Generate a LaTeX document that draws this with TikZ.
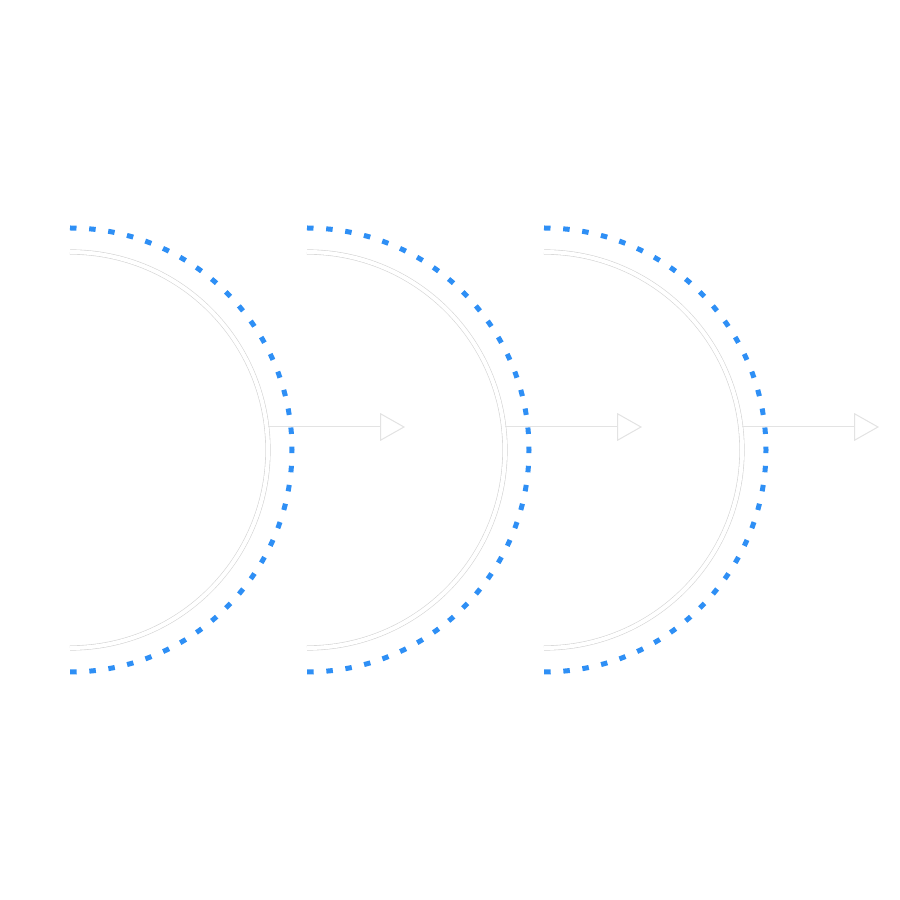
\documentclass[tikz,border=0pt]{standalone}
\usetikzlibrary{arrows.meta}
\definecolor{dotblue}{HTML}{2E8FF5}
\definecolor{faint}{HTML}{D4D4D4}
\definecolor{arrowgray}{HTML}{E3E3E3}
\begin{document}
\begin{tikzpicture}[x=1pt,y=1pt,
  dotarc/.style={draw=dotblue, line width=5pt, dash pattern=on 6.5pt off 12.69pt},
  innerarc/.style={draw=faint, line width=0.6pt, double=white, double distance=4pt},
  flowarrow/.style={draw=arrowgray, line width=1pt, -{Triangle[open, length=25pt, width=28pt, fill=white]}}]
\useasboundingbox (0,0) rectangle (900,900);
\foreach \cx/\i in {70/1, 307/2, 544/3}{
  \coordinate (top\i) at (\cx,672);
  \coordinate (itop\i) at (\cx,648);
  \coordinate (s\i) at (\cx+198,473);
  \coordinate (e\i) at (\cx+335,473);
  \draw[innerarc] (itop\i) arc[start angle=90, end angle=-90, radius=198];
  \draw[dotarc] (top\i) arc[start angle=90, end angle=-90, radius=222];
  \draw[flowarrow] (s\i) -- (e\i);
}
\end{tikzpicture}
\end{document}
